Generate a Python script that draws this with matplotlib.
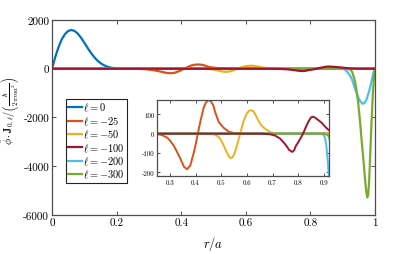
import matplotlib
matplotlib.use("Agg")
import matplotlib.pyplot as plt

plt.rcParams['font.family'] = ['cmr10', 'DejaVu Sans']
plt.rcParams['mathtext.fontset'] = 'cm'
plt.rcParams['axes.formatter.use_mathtext'] = True

# ---- data ----
labels = [r'$\ell = 0$', r'$\ell = -25$', r'$\ell = -50$',
          r'$\ell = -100$', r'$\ell = -200$', r'$\ell = -300$']
colors = ['#0072BD', '#D95319', '#EDB120', '#A2142F', '#4DBEEE', '#77AC30']

r0 = [0, 0.01, 0.02, 0.03, 0.04, 0.05, 0.06, 0.07, 0.08, 0.09, 0.10, 0.11,
      0.12, 0.13, 0.14, 0.15, 0.16, 0.17, 0.18, 0.20, 0.22, 1.0]
v0 = [0, 480, 880, 1200, 1420, 1550, 1590, 1550, 1440, 1270, 1070, 860,
      660, 490, 340, 230, 150, 90, 50, 12, 0, 0]

r25 = [0, 0.25, 0.27, 0.29, 0.30, 0.316, 0.33, 0.342, 0.355, 0.367, 0.38,
       0.393, 0.40, 0.409, 0.42, 0.432, 0.44, 0.451, 0.46, 0.47, 0.477,
       0.49, 0.509, 0.53, 0.55, 0.58, 1.0]
v25 = [0, -2, -8, -21, -35, -64, -100, -133, -172, -185, -165,
       -100, -60, 0, 70, 135, 161, 175, 168, 145, 110,
       62, 31, 10, 3, 0, 0]

r50 = [0, 0.44, 0.47, 0.48, 0.49, 0.50, 0.51, 0.52, 0.53, 0.538, 0.545,
       0.553, 0.561, 0.574, 0.587, 0.60, 0.608, 0.617, 0.626, 0.635, 0.643,
       0.655, 0.667, 0.677, 0.69, 0.70, 0.72, 0.75, 1.0]
v50 = [0, 0, -3, -8, -18, -35, -62, -92, -118, -128, -122,
       -100, -64, 0, 65, 105, 118, 122, 116, 95, 72,
       45, 30, 20, 9, 5, 1, 0, 0]

r100 = [0, 0.66, 0.69, 0.71, 0.729, 0.745, 0.755, 0.765, 0.777, 0.785, 0.79,
        0.80, 0.81, 0.819, 0.83, 0.84, 0.85, 0.856, 0.865, 0.875, 0.891,
        0.905, 0.92, 0.935, 0.95, 0.97, 1.0]
v100 = [0, 0, -3, -10, -25, -48, -65, -85, -95, -85, -66,
        -45, -22, 0, 35, 63, 84, 88, 84, 74, 57,
        36, 17, 6, 2, 0, 0]

r200 = [0, 0.88, 0.895, 0.90, 0.905, 0.91, 0.915, 0.92, 0.925, 0.93, 0.938,
        0.948, 0.955, 0.962, 0.968, 0.974, 0.98, 0.985, 0.99, 0.993, 0.997, 1.0]
v200 = [0, 0, -3, -8, -25, -65, -140, -230, -330, -480, -800,
        -1170, -1350, -1435, -1400, -1250, -1000, -770, -480, -300, -90, 0]

r300 = [0, 0.90, 0.915, 0.92, 0.925, 0.93, 0.938, 0.943, 0.948, 0.954, 0.959,
        0.964, 0.969, 0.973, 0.976, 0.979, 0.982, 0.985, 0.989, 0.993, 0.997, 1.0]
v300 = [0, 0, -8, -15, -50, -150, -500, -900, -1400, -2200, -3000,
        -3700, -4500, -5050, -5280, -5150, -4600, -3600, -2300, -1150, -300, 0]

xticks_main = [0, 0.2, 0.4, 0.6, 0.8, 1.0]
xticklabels_main = ['0', '0.2', '0.4', '0.6', '0.8', '1']
yticks_main = [2000, 0, -2000, -4000, -6000]
yticklabels_main = ['2000', '0', '-2000', '-4000', '-6000']

xticks_in = [0.3, 0.4, 0.5, 0.6, 0.7, 0.8, 0.9]
xticklabels_in = ['0.3', '0.4', '0.5', '0.6', '0.7', '0.8', '0.9']
yticks_in = [100, 0, -100, -200]
yticklabels_in = ['100', '0', '-100', '-200']

series = [(r0, v0), (r25, v25), (r50, v50), (r100, v100), (r200, v200), (r300, v300)]

spine_col = '#4d4d4d'

fig = plt.figure(figsize=(4.2, 2.55), dpi=100)
ax = fig.add_axes([0.1238, 0.153, 0.769, 0.7647])

def style(a, fs, tl):
    for s in a.spines.values():
        s.set_color(spine_col)
        s.set_linewidth(0.9)
    a.tick_params(direction='in', top=True, right=True, length=tl, width=0.7,
                  color=spine_col, labelsize=fs, pad=2)

handles = []
for i, ((r, v), c, lab) in enumerate(zip(series, colors, labels)):
    z = 4 if i == 3 else 2
    h, = ax.plot(r, v, color=c, lw=1.6, label=lab, zorder=z)
    handles.append(h)

ax.set_xlim(0, 1)
ax.set_ylim(-6000, 2000)
ax.set_xticks(xticks_main)
ax.set_xticklabels(xticklabels_main)
ax.set_yticks(yticks_main)
ax.set_yticklabels(yticklabels_main)
style(ax, 8, 3)

ax.set_ylabel(r'$\hat{\phi}\cdot\mathbf{J}_{0,\ell}/\left(\frac{\hbar}{2\pi m a^2}\right)$',
              fontsize=7.4)
ax.yaxis.set_label_coords(-0.097, 0.54)
ax.set_xlabel(r'$r/a$', fontsize=9)
ax.xaxis.set_label_coords(0.5, -0.1)

leg = ax.legend(handles=handles, loc='upper left', bbox_to_anchor=(0.043, 0.597),
                borderaxespad=0, fontsize=7.5, labelspacing=0.1,
                handlelength=1.25, handletextpad=0.15, borderpad=0.25,
                fancybox=False, framealpha=1)
leg.get_frame().set_edgecolor('#222222')
leg.get_frame().set_linewidth(0.8)

axin = fig.add_axes([0.3738, 0.306, 0.4095, 0.298])
for i, ((r, v), c) in enumerate(zip(series, colors)):
    z = 4 if i == 3 else 2
    axin.plot(r, v, color=c, lw=1.4, zorder=z)
axin.set_xlim(0.25, 0.92)
axin.set_ylim(-220, 175)
axin.set_xticks(xticks_in)
axin.set_xticklabels(xticklabels_in)
axin.set_yticks(yticks_in)
axin.set_yticklabels(yticklabels_in)
style(axin, 5, 2)

fig.savefig('out.png', dpi=100)
